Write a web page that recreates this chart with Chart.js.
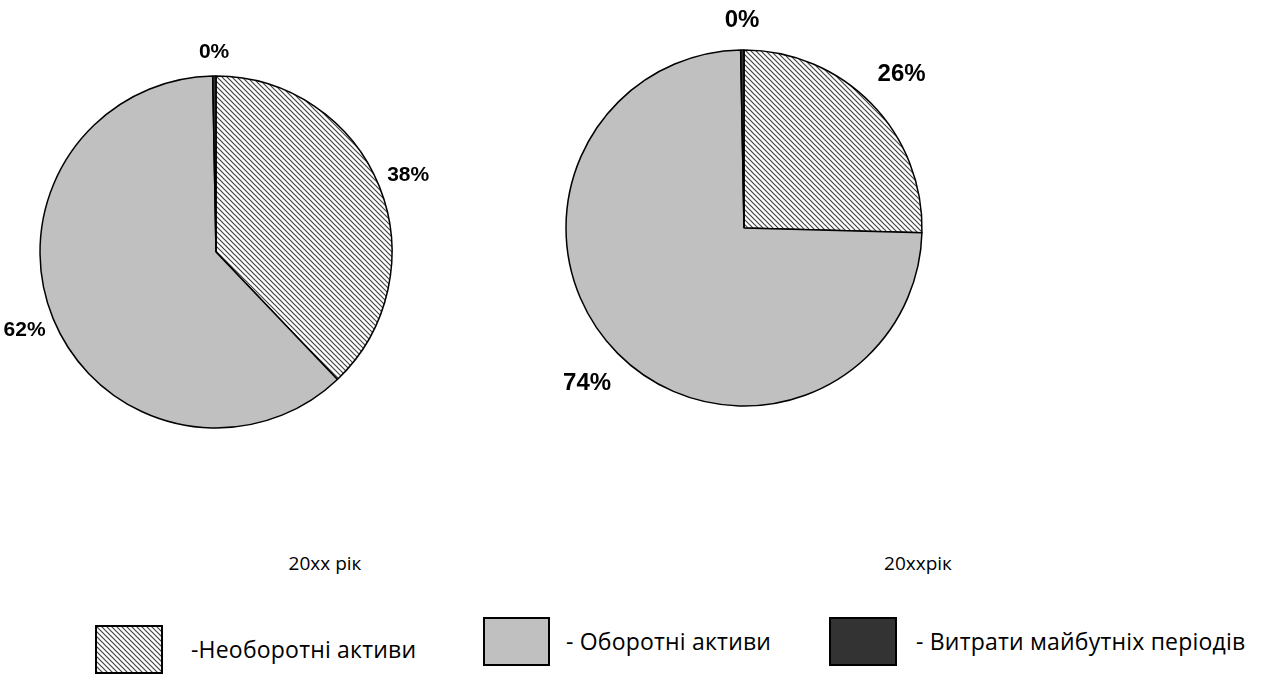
<!DOCTYPE html>
<html>
<head>
<meta charset="utf-8">
<script src="https://cdn.jsdelivr.net/npm/chart.js@4"></script>
<style>
  * { margin: 0; padding: 0; box-sizing: border-box; }
  html, body { width: 1271px; height: 675px; background: #fff; overflow: hidden; }
  body { position: relative; font-family: "Open Sans", sans-serif; color: #000; }
  canvas { position: absolute; }
  .title { position: absolute; font-size: 19px; transform: translate(-50%, -50%); white-space: nowrap; }
  .box { position: absolute; border: 2px solid #000; }
  .ltxt { position: absolute; font-size: 23px; letter-spacing: 0.2px; transform: translateY(-50%); white-space: nowrap; }
</style>
</head>
<body>
<canvas id="pieA" width="520" height="480" style="left:0;top:0"></canvas>
<canvas id="pieB" width="560" height="470" style="left:470px;top:0"></canvas>

<div class="title" style="left:325px;top:563px">20xx рік</div>
<div class="title" style="left:918px;top:563px">20xxрік</div>

<div class="box" id="box0" style="left:95px;top:625px;width:68px;height:49px"></div>
<div class="ltxt" style="left:191px;top:649px">-Необоротні активи</div>
<div class="box" style="left:483px;top:617px;width:67px;height:49px;background:#c0c0c0"></div>
<div class="ltxt" style="left:566px;top:641px">- Оборотні активи</div>
<div class="box" style="left:829px;top:617px;width:68px;height:49px;background:#333"></div>
<div class="ltxt" style="left:916px;top:641px">- Витрати майбутніх періодів</div>

<script>
// категорії та значення
const categories = ['Необоротні активи', 'Оборотні активи', 'Витрати майбутніх періодів'];
const valuesA = [38, 62, 0.3];
const labelsA = ['38%', '62%', '0%'];
const valuesB = [25.5, 74.5, 0.3];
const labelsB = ['26%', '74%', '0%'];

// штриховка
function hatch() {
    const c = document.createElement('canvas');
    c.width = 5; c.height = 5;
    const g = c.getContext('2d');
    g.fillStyle = '#fff';
    g.fillRect(0, 0, 5, 5);
    g.strokeStyle = '#444';
    g.lineWidth = 1.2;
    g.beginPath();
    g.moveTo(-1, -1); g.lineTo(6, 6);
    g.moveTo(-1, 4); g.lineTo(1, 6);
    g.moveTo(4, -1); g.lineTo(6, 1);
    g.stroke();
    return c;
}
const hatchCanvas = hatch();
document.getElementById('box0').style.background = 'url(' + hatchCanvas.toDataURL() + ')';

const outLabels = {
    id: 'outLabels',
    afterDatasetsDraw(chart, args, opts) {
        const ctx = chart.ctx;
        const arcs = chart.getDatasetMeta(0).data;
        ctx.save();
        ctx.font = 'bold ' + opts.size + 'px "Liberation Sans", Arial, sans-serif';
        ctx.fillStyle = '#000';
        ctx.textAlign = 'center';
        ctx.textBaseline = 'middle';
        arcs.forEach((a, i) => {
            const p = a.getProps(['x', 'y', 'startAngle', 'endAngle', 'outerRadius'], true);
            const m = (p.startAngle + p.endAngle) / 2;
            const d = p.outerRadius + opts.offsets[i];
            ctx.fillText(opts.text[i], p.x + Math.cos(m) * d, p.y + Math.sin(m) * d);
        });
        ctx.restore();
    }
};

function makePie(id, left, values, text, cx, cy, r, size, offsets) {
    const cv = document.getElementById(id);
    const ctx = cv.getContext('2d');
    const bw = 1.5;
    const pat = ctx.createPattern(hatchCanvas, 'repeat');
    const x0 = cx - left;
    const pad = {
        left: x0 - r - bw / 2,
        top: cy - r - bw / 2,
        right: cv.width - (x0 + r + bw / 2),
        bottom: cv.height - (cy + r + bw / 2)
    };
    return new Chart(ctx, {
        type: 'pie',
        data: {
            labels: categories,
            datasets: [{
                data: values,
                backgroundColor: [pat, '#c0c0c0', '#333333'],
                borderColor: '#000',
                borderWidth: bw
            }]
        },
        options: {
            responsive: false,
            animation: false,
            layout: { padding: pad },
            plugins: {
                legend: { display: false },
                tooltip: { enabled: false },
                outLabels: { text: text, size: size, offsets: offsets }
            }
        },
        plugins: [outLabels]
    });
}

makePie('pieA', 0, valuesA, labelsA, 216, 252, 176, 21, [31, 31, 24]);
makePie('pieB', 470, valuesB, labelsB, 744, 228, 178, 24, [42, 43, 30]);
</script>
</body>
</html>
